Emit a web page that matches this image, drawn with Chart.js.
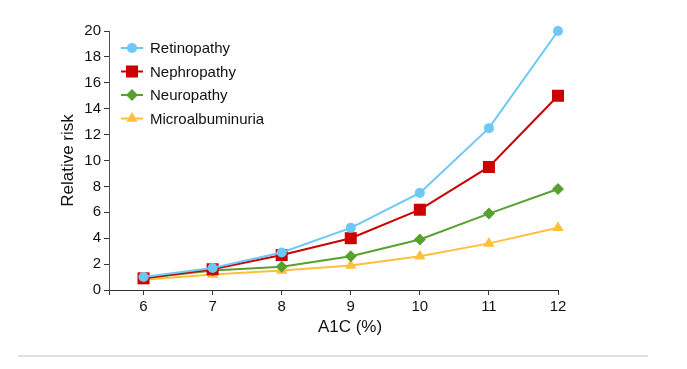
<!DOCTYPE html>
<html>
<head>
<meta charset="utf-8">
<script src="https://cdn.jsdelivr.net/npm/chart.js@4"></script>
<style>
  html, body { margin: 0; padding: 0; background: #fff; }
  #wrap { position: relative; width: 687px; height: 369px; }
  #rule { position: absolute; left: 18px; top: 355px; width: 630px; height: 2px; background: #d6e2ea; }
</style>
</head>
<body>
<div id="wrap">
  <canvas id="risk-chart" width="687" height="369"></canvas>
  <div id="rule"></div>
</div>
<script>
// A1C (%) on the x axis
const a1c = [6, 7, 8, 9, 10, 11, 12];

// relative risk per complication
const retinopathy = [1.0, 1.7, 2.9, 4.8, 7.5, 12.5, 20.0];
const nephropathy = [0.9, 1.6, 2.7, 4.0, 6.2, 9.5, 15.0];
const neuropathy = [0.9, 1.5, 1.8, 2.6, 3.9, 5.9, 7.8];
const microalbuminuria = [0.8, 1.2, 1.5, 1.9, 2.6, 3.6, 4.8];

const yTicks = [0, 2, 4, 6, 8, 10, 12, 14, 16, 18, 20];

const FONT = 'Arial, "Liberation Sans", sans-serif';

function series(label, values, color, style, radius) {
    return {
        label: label,
        data: a1c.map((x, i) => ({ x: x, y: values[i] })),
        borderColor: color,
        backgroundColor: color,
        borderWidth: 2,
        pointStyle: style,
        pointRadius: radius,
        pointBorderWidth: 0,
        pointHoverRadius: radius,
        clip: false,
        tension: 0
    };
}

// legend drawn inside the plot: short line + marker + label
// plus the x axis title, which sits a bit right of the axis centre in the original
const insideLegend = {
    id: 'insideLegend',
    afterDraw(chart) {
        const ctx = chart.ctx;
        ctx.save();
        chart.data.datasets.forEach((ds, i) => {
            const y = 48 + i * 23.5;
            ctx.strokeStyle = ds.borderColor;
            ctx.lineWidth = 2;
            ctx.beginPath();
            ctx.moveTo(121, y);
            ctx.lineTo(143, y);
            ctx.stroke();
            ctx.fillStyle = ds.backgroundColor;
            Chart.helpers.drawPoint(ctx, { pointStyle: ds.pointStyle, radius: ds.pointRadius, borderWidth: 0 }, 132, y);
            ctx.fillStyle = '#111';
            ctx.font = '15px ' + FONT;
            ctx.textBaseline = 'middle';
            ctx.textAlign = 'left';
            ctx.fillText(ds.label, 150, y + 1);
        });

        ctx.fillStyle = '#111';
        ctx.font = '17px ' + FONT;
        ctx.textAlign = 'center';
        ctx.textBaseline = 'middle';
        ctx.fillText('A1C (%)', 350, 327);
        ctx.restore();
    }
};

new Chart(document.getElementById('risk-chart'), {
    type: 'line',
    data: {
        datasets: [
            series('Retinopathy', retinopathy, '#6cc8f4', 'circle', 5),
            series('Nephropathy', nephropathy, '#cc0000', 'rect', 8.5),
            series('Neuropathy', neuropathy, '#58a130', 'rectRot', 6),
            series('Microalbuminuria', microalbuminuria, '#ffbf3c', 'triangle', 6.5)
        ]
    },
    plugins: [insideLegend],
    options: {
        responsive: false,
        animation: false,
        layout: { padding: { left: 50, top: 31, right: 129, bottom: 30 } },
        plugins: {
            legend: { display: false },
            tooltip: { enabled: false }
        },
        scales: {
            x: {
                type: 'linear',
                min: 5.5,
                max: 12,
                afterFit: scale => { scale.height = 49; },
                afterBuildTicks: scale => {
                    scale.ticks = [{ value: 5.5 }].concat(a1c.map(v => ({ value: v })));
                },
                ticks: {
                    color: '#111',
                    font: { family: FONT, size: 15 },
                    padding: 3,
                    maxRotation: 0,
                    callback: v => Number.isInteger(v) ? String(v) : ''
                },
                grid: { drawOnChartArea: false, drawTicks: true, tickLength: 5, color: '#333' },
                border: { color: '#333', width: 1 },
                title: { display: false }
            },
            y: {
                min: 0,
                max: 20,
                afterFit: scale => { scale.width = 59; },
                afterBuildTicks: scale => {
                    scale.ticks = yTicks.map(v => ({ value: v }));
                },
                ticks: {
                    color: '#111',
                    font: { family: FONT, size: 15 },
                    padding: 3
                },
                grid: { drawOnChartArea: false, drawTicks: true, tickLength: 5, color: '#333' },
                border: { color: '#555', width: 1, dash: [2, 1] },
                title: {
                    display: true,
                    text: 'Relative risk',
                    color: '#111',
                    font: { family: FONT, size: 17 },
                    padding: { top: 8, bottom: 0 }
                }
            }
        }
    }
});
</script>
</body>
</html>
